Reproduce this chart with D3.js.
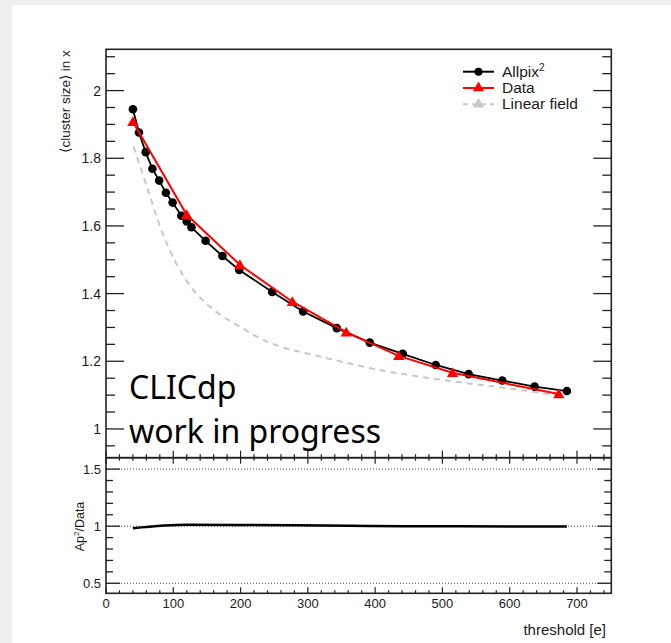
<!DOCTYPE html>
<html>
<head>
<meta charset="utf-8">
<script src="https://cdn.jsdelivr.net/npm/d3@7"></script>
<style>
  html, body { margin: 0; padding: 0; background: #eeeeee; }
  svg { display: block; }
  text { font-family: "Liberation Sans", Arial, Helvetica, sans-serif; fill: #1a1a1a; }
</style>
</head>
<body>
<svg id="chart" width="671" height="643"></svg>
<script>
// Mean cluster size along x versus threshold
const allpixThr  = [40, 49, 59, 69, 79, 89, 99, 112, 120, 127, 148, 173, 198, 247, 293, 343, 392, 441, 490, 539, 589, 637, 685];
const allpixSize = [1.945, 1.876, 1.818, 1.769, 1.734, 1.698, 1.669, 1.630, 1.613, 1.596, 1.556, 1.511, 1.470, 1.405, 1.347, 1.298, 1.255, 1.222, 1.189, 1.162, 1.143, 1.125, 1.112];

const dataThr  = [40, 120, 199, 277, 357, 435, 515, 673];
const dataSize = [1.908, 1.633, 1.485, 1.376, 1.286, 1.216, 1.166, 1.103];

const linearThr  = [41, 61, 80, 103, 125, 162, 199, 229, 259, 308, 407, 507, 605, 670];
const linearSize = [1.834, 1.715, 1.600, 1.494, 1.423, 1.349, 1.302, 1.268, 1.243, 1.219, 1.174, 1.143, 1.118, 1.100];

// Ratio panel
const ratioThr = [40, 120, 200, 280, 360, 440, 520, 600, 685];
const ratioVal = [0.982, 1.012, 1.011, 1.008, 1.004, 1.000, 0.999, 0.998, 0.997];

const xTicks      = [0, 100, 200, 300, 400, 500, 600, 700];
const yTicksTop   = [1, 1.2, 1.4, 1.6, 1.8, 2];
const yTicksRatio = [0.5, 1, 1.5];
const ratioRefs   = [0.5, 1, 1.5];

const legendItems = [
  { label: "Allpix", sup: "2", color: "#000", marker: "circle", dash: null },
  { label: "Data", sup: null, color: "#ff0000", marker: "triangle", dash: null },
  { label: "Linear field", sup: null, color: "#c8c8c8", marker: "triangle", dash: "5,4" }
];

const svg = d3.select("#chart");

// white card
svg.append("rect").attr("x", 12).attr("y", 5).attr("width", 671 - 12).attr("height", 643 - 5).attr("fill", "#fff");

const L = 106, R = 611.3;
const topT = 49.3, topB = 457.7, botB = 593.3;

const x = d3.scaleLinear().domain([0, 751]).range([L, R]);
const yTop = d3.scaleLinear().domain([0.915, 2.122]).range([topB, topT]);
const yRat = d3.scaleLinear().domain([0.412, 1.6]).range([botB, topB]);

const frameColor = "#222";

// y ticks on both sides of a pad, labels on the left
function yTicks(scale, majors, minorStep, lo, hi, majLen, minLen, fmt, fontSize) {
  const g = svg.append("g");
  d3.range(lo, hi + 1e-9, minorStep).forEach(v => {
    const isMajor = majors.some(m => Math.abs(m - v) < 1e-6);
    const len = isMajor ? majLen : minLen;
    const yy = scale(v);
    g.append("line").attr("x1", L).attr("x2", L + len).attr("y1", yy).attr("y2", yy)
      .attr("stroke", frameColor).attr("stroke-width", 1.3);
    g.append("line").attr("x1", R).attr("x2", R - len).attr("y1", yy).attr("y2", yy)
      .attr("stroke", frameColor).attr("stroke-width", 1.3);
  });
  majors.forEach(v => {
    g.append("text").attr("x", L - 5).attr("y", scale(v)).attr("dy", "0.36em")
      .attr("text-anchor", "end").style("font-size", fontSize + "px").text(fmt(v));
  });
}

// ---- Top panel
yTicks(yTop, yTicksTop, 0.05, 0.95, 2.1, 18, 9, d3.format("~g"), 14);

// x ticks on the bottom edge of the top pad
d3.range(0, 741, 20).forEach(v => {
  const len = v % 100 === 0 ? 7 : 3.5;
  svg.append("line").attr("x1", x(v)).attr("x2", x(v)).attr("y1", topB).attr("y2", topB - len)
    .attr("stroke", frameColor).attr("stroke-width", 1.2);
});

// Linear field curve
svg.append("path")
  .datum(linearThr.map((t, i) => [t, linearSize[i]]))
  .attr("fill", "none").attr("stroke", "#c8c8c8").attr("stroke-width", 2)
  .attr("stroke-dasharray", "6,5")
  .attr("d", d3.line().x(d => x(d[0])).y(d => yTop(d[1])).curve(d3.curveMonotoneX));

// Allpix line + markers
const apPts = allpixThr.map((t, i) => [t, allpixSize[i]]);
svg.append("path").datum(apPts)
  .attr("fill", "none").attr("stroke", "#000").attr("stroke-width", 1.8)
  .attr("d", d3.line().x(d => x(d[0])).y(d => yTop(d[1])));
svg.append("g").selectAll("circle").data(apPts).join("circle")
  .attr("cx", d => x(d[0])).attr("cy", d => yTop(d[1])).attr("r", 4.3).attr("fill", "#000");

// Data line + markers
const dPts = dataThr.map((t, i) => [t, dataSize[i]]);
svg.append("path").datum(dPts)
  .attr("fill", "none").attr("stroke", "#ff0000").attr("stroke-width", 2)
  .attr("d", d3.line().x(d => x(d[0])).y(d => yTop(d[1])));
const tri = d3.symbol().type(d3.symbolTriangle).size(55);
svg.append("g").selectAll("path").data(dPts).join("path")
  .attr("transform", d => `translate(${x(d[0])},${yTop(d[1]) + 1})`)
  .attr("d", tri).attr("fill", "#ff0000");

// Top frame
svg.append("rect").attr("x", L).attr("y", topT).attr("width", R - L).attr("height", topB - topT)
  .attr("fill", "none").attr("stroke", frameColor).attr("stroke-width", 1.6);

// Y title
svg.append("text")
  .attr("transform", `translate(70,${topT + 1}) rotate(-90)`)
  .attr("text-anchor", "end").style("font-size", "13.5px")
  .text("\u27E8cluster size\u27E9 in x");

// Legend
legendItems.forEach((it, i) => {
  const yy = 71.7 + i * 16.3;
  const g = svg.append("g");
  g.append("line").attr("x1", 463).attr("x2", 494).attr("y1", yy).attr("y2", yy)
    .attr("stroke", it.color).attr("stroke-width", 2).attr("stroke-dasharray", it.dash);
  if (it.marker === "circle") {
    g.append("circle").attr("cx", 478.5).attr("cy", yy).attr("r", 4).attr("fill", it.color);
  } else {
    g.append("path").attr("transform", `translate(478.5,${yy})`).attr("d", tri).attr("fill", it.color);
  }
  const t = g.append("text").attr("x", 502).attr("y", yy + 5).style("font-size", "15.5px").text(it.label);
  if (it.sup) {
    t.append("tspan").attr("dy", -6).style("font-size", "10px").text(it.sup);
  }
});

// CLICdp label
const tagFont = "'Noto Sans', 'Open Sans', sans-serif";
svg.append("text").attr("x", 129).attr("y", 399)
  .style("font-family", tagFont).style("font-size", "32px").style("fill", "#000")
  .text("CLICdp");
svg.append("text").attr("x", 129).attr("y", 443)
  .style("font-family", tagFont).style("font-size", "32px").style("fill", "#000")
  .text("work in progress");

// ---- Ratio panel
ratioRefs.forEach(v => {
  svg.append("line").attr("x1", L).attr("x2", R).attr("y1", yRat(v)).attr("y2", yRat(v))
    .attr("stroke", "#444").attr("stroke-width", 1).attr("stroke-dasharray", "1,2");
});
yTicks(yRat, yTicksRatio, 0.1, 0.5, 1.5, 14, 7, d3.format("~g"), 13);

d3.range(0, 741, 20).forEach(v => {
  const len = v % 100 === 0 ? 6 : 3;
  svg.append("line").attr("x1", x(v)).attr("x2", x(v)).attr("y1", topB).attr("y2", topB + len)
    .attr("stroke", frameColor).attr("stroke-width", 1.2);
  svg.append("line").attr("x1", x(v)).attr("x2", x(v)).attr("y1", botB).attr("y2", botB - len)
    .attr("stroke", frameColor).attr("stroke-width", 1.2);
});

svg.append("path")
  .datum(ratioThr.map((t, i) => [t, ratioVal[i]]))
  .attr("fill", "none").attr("stroke", "#000").attr("stroke-width", 2.5)
  .attr("d", d3.line().x(d => x(d[0])).y(d => yRat(d[1])).curve(d3.curveMonotoneX));

svg.append("rect").attr("x", L).attr("y", topB).attr("width", R - L).attr("height", botB - topB)
  .attr("fill", "none").attr("stroke", frameColor).attr("stroke-width", 1.6);

// x tick labels
xTicks.forEach(v => {
  svg.append("text").attr("x", x(v)).attr("y", 608).attr("text-anchor", "middle")
    .style("font-size", "13px").text(v);
});

// axis titles
svg.append("text").attr("x", 606).attr("y", 635).attr("text-anchor", "end")
  .style("font-size", "15px").text("threshold [e]");

const rt = svg.append("text")
  .attr("transform", `translate(84,${(topB + botB) / 2 + 1}) rotate(-90)`)
  .attr("text-anchor", "middle").style("font-size", "12.5px");
rt.append("tspan").text("Ap");
rt.append("tspan").attr("dy", -5).style("font-size", "8px").text("2");
rt.append("tspan").attr("dy", 5).text("/Data");
</script>
</body>
</html>
